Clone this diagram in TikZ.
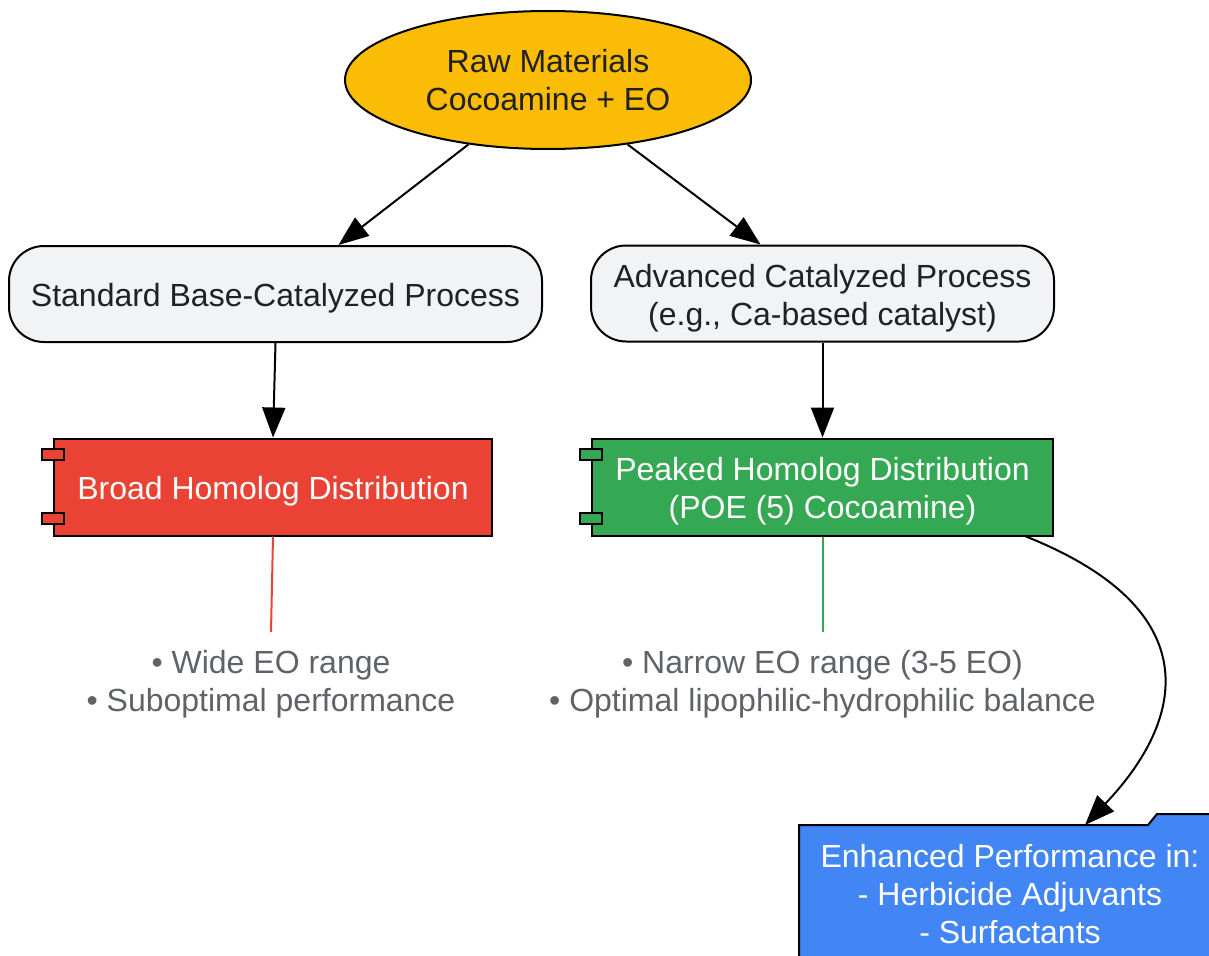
\documentclass[tikz,border=0pt]{standalone}
\usepackage{fontspec}
\setmainfont{Liberation Sans}
\usetikzlibrary{shapes.geometric,arrows.meta}
\definecolor{rawyellow}{HTML}{FBBC05}
\definecolor{procgrey}{HTML}{F1F3F4}
\definecolor{broadred}{HTML}{EA4335}
\definecolor{peakgreen}{HTML}{34A853}
\definecolor{perfblue}{HTML}{4285F4}
\definecolor{darktext}{HTML}{202124}
\definecolor{notegrey}{HTML}{5F6368}
\newcommand{\topstrut}{\rule{0pt}{32pt}}
\tikzset{
  proc/.style={rectangle, rounded corners=35pt, draw, fill=procgrey, text=darktext, minimum height=96pt, align=center, inner sep=0pt},
  comp/.style={rectangle, draw, text=white, minimum height=97pt, align=center, inner sep=0pt},
  note/.style={text=notegrey, align=center, inner sep=17pt}
}
\begin{document}
\begin{tikzpicture}[x=1pt,y=-1pt, line width=2pt, font=\fontsize{32}{38}\selectfont, >={Triangle[length=30pt,width=23pt]}]
\path[use as bounding box, clip] (0,0) rectangle (1209,955);
\node[ellipse, draw, fill=rawyellow, minimum width=406pt, minimum height=138pt, inner sep=0pt, align=center, text=darktext] (raw) at (548,80) {Raw Materials\\Cocoamine + EO};
\node[proc, minimum width=533pt] (std) at (275.5,294) {\topstrut Standard Base-Catalyzed Process};
\node[proc, minimum width=463pt] (adv) at (822.5,293.5) {\topstrut Advanced Catalyzed Process\\(e.g., Ca-based catalyst)};
\node[comp, fill=broadred, minimum width=438pt] (broad) at (273,487) {\topstrut Broad Homolog Distribution};
\node[comp, fill=peakgreen, minimum width=461pt] (peak) at (822.5,487) {\topstrut Peaked Homolog Distribution\\(POE (5) Cocoamine)};
\foreach \n/\c in {broad/broadred, peak/peakgreen}{
  \draw[fill=\c] ([xshift=-11pt,yshift=38pt]\n.west) rectangle ++(22,11);
  \draw[fill=\c] ([xshift=-11pt,yshift=-26pt]\n.west) rectangle ++(22,11);
}
\node[note, anchor=north] (wide) at (271,632) {• Wide EO range\\• Suboptimal performance};
\node[note, anchor=north] (narrow) at (822.5,632) {• Narrow EO range (3-5 EO)\\• Optimal lipophilic-hydrophilic balance};
% folder shape
\draw[fill=perfblue] (799,975) -- (799,825) -- (1148,825) -- (1157,814) -- (1225,814) -- (1225,975) -- cycle;
\node[text=white, align=center] (perf) at (1010,894) {Enhanced Performance in:\\- Herbicide Adjuvants\\- Surfactants};
\coordinate (perftop) at (1085,825);
\draw[->] (raw.219) -- ([xshift=63pt]std.north);
\draw[->] (raw.321) -- ([xshift=-62pt]adv.north);
\draw[->] (std.south) -- (broad.north);
\draw[->] (adv.south) -- (peak.north);
\draw[broadred] (broad.south) -- (wide.north);
\draw[peakgreen] (peak.south) -- (narrow.north);
\draw[->] ([xshift=-28pt]peak.south east) .. controls (1210,610) and (1185,720) .. (perftop);
\end{tikzpicture}
\end{document}
